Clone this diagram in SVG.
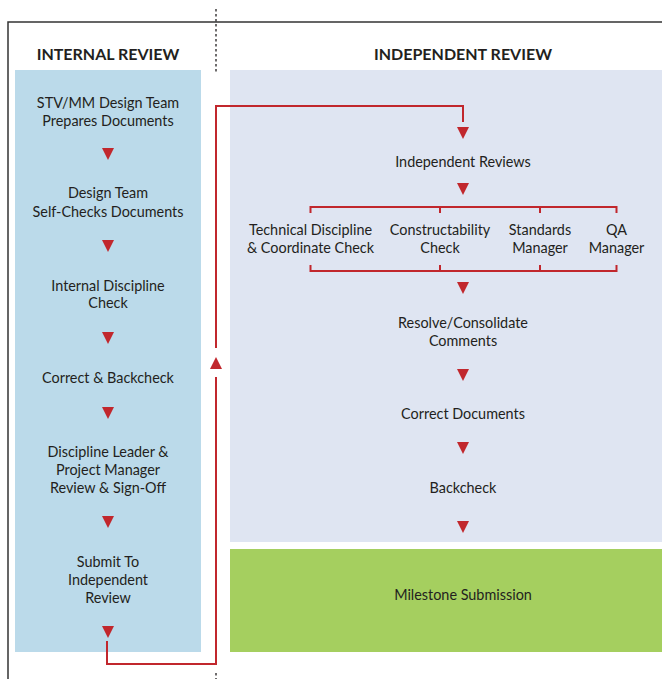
<svg xmlns="http://www.w3.org/2000/svg" xmlns:xlink="http://www.w3.org/1999/xlink" width="662" height="679" viewBox="0 0 662 679">
  <style>
    .frame { fill: none; stroke: #333333; stroke-width: 1.5; }
    .divider { fill: none; stroke: #231f20; stroke-width: 1.3; stroke-dasharray: 2.4 2.6; }
    .lane-int { fill: #bbdaea; }
    .lane-ind { fill: #dfe5f2; }
    .milestone { fill: #a5cf5f; }
    .head { font-family: Lato, "Open Sans", sans-serif; font-weight: 700; font-size: 16px; fill: #231f20; text-anchor: middle; }
    .lbl { font-family: Lato, "Open Sans", sans-serif; font-size: 14.4px; fill: #231f20; text-anchor: middle; }
    .wire { fill: none; stroke: #c1272d; stroke-width: 2; }
    .tip { fill: #c1272d; }
  </style>
  <defs>
    <!-- pointers: 12 wide, 12 tall, positioned by their top-centre -->
    <path id="down" d="M-6,0 H6 L0,12 Z"/>
    <path id="up" d="M-6,12 H6 L0,0 Z"/>
  </defs>

  <!-- frame and lane divider -->
  <path class="frame" d="M8,679 V22 H662"/>
  <path class="divider" d="M216,9 V72"/>
  <path class="divider" d="M216,673 V679"/>

  <!-- lanes -->
  <rect class="lane-int" x="15" y="70" width="186" height="582"/>
  <rect class="lane-ind" x="230" y="70" width="432" height="472"/>

  <text class="head" x="108" y="60">INTERNAL REVIEW</text>
  <text class="head" x="463" y="60">INDEPENDENT REVIEW</text>

  <!-- internal review steps -->
  <g id="stv-prepares">
    <text class="lbl" x="108" y="108">STV/MM Design Team</text>
    <text class="lbl" x="108" y="126">Prepares Documents</text>
  </g>
  <g id="self-check">
    <text class="lbl" x="108" y="198">Design Team</text>
    <text class="lbl" x="108" y="217">Self-Checks Documents</text>
  </g>
  <g id="discipline-check">
    <text class="lbl" x="108" y="291">Internal Discipline</text>
    <text class="lbl" x="108" y="308">Check</text>
  </g>
  <g id="correct-backcheck">
    <text class="lbl" x="108" y="383">Correct &amp; Backcheck</text>
  </g>
  <g id="signoff">
    <text class="lbl" x="108" y="457">Discipline Leader &amp;</text>
    <text class="lbl" x="108" y="475">Project Manager</text>
    <text class="lbl" x="108" y="493">Review &amp; Sign-Off</text>
  </g>
  <g id="submit">
    <text class="lbl" x="108" y="567">Submit To</text>
    <text class="lbl" x="108" y="585">Independent</text>
    <text class="lbl" x="108" y="603">Review</text>
  </g>

  <!-- independent review steps -->
  <g id="independent-reviews">
    <text class="lbl" x="463" y="167">Independent Reviews</text>
  </g>
  <g id="technical-check">
    <text class="lbl" x="310.5" y="235">Technical Discipline</text>
    <text class="lbl" x="310.5" y="253">&amp; Coordinate Check</text>
  </g>
  <g id="constructability">
    <text class="lbl" x="440" y="235">Constructability</text>
    <text class="lbl" x="440" y="253">Check</text>
  </g>
  <g id="standards">
    <text class="lbl" x="540" y="235">Standards</text>
    <text class="lbl" x="540" y="253">Manager</text>
  </g>
  <g id="qa">
    <text class="lbl" x="616.5" y="235">QA</text>
    <text class="lbl" x="616.5" y="253">Manager</text>
  </g>
  <g id="resolve">
    <text class="lbl" x="463" y="328">Resolve/Consolidate</text>
    <text class="lbl" x="463" y="346">Comments</text>
  </g>
  <g id="correct-docs">
    <text class="lbl" x="463" y="419">Correct Documents</text>
  </g>
  <g id="backcheck">
    <text class="lbl" x="463" y="493">Backcheck</text>
  </g>
  <g id="milestone">
    <rect class="milestone" x="230" y="549" width="432" height="103"/>
    <text class="lbl" x="463" y="600">Milestone Submission</text>
  </g>

  <g id="connectors">
    <!-- internal flow -->
    <use class="tip" xlink:href="#down" x="108" y="148"/>
    <use class="tip" xlink:href="#down" x="108" y="240"/>
    <use class="tip" xlink:href="#down" x="108" y="332"/>
    <use class="tip" xlink:href="#down" x="108" y="407"/>
    <use class="tip" xlink:href="#down" x="108" y="516"/>
    <use class="tip" xlink:href="#down" x="108" y="626"/>

    <!-- hand-off to independent review -->
    <path class="wire" d="M107,641 V664 H216 V377"/>
    <use class="tip" xlink:href="#up" x="216" y="357"/>
    <path class="wire" d="M216,348 V106 H463 V122"/>
    <use class="tip" xlink:href="#down" x="463" y="127"/>

    <!-- fan-out / fan-in -->
    <use class="tip" xlink:href="#down" x="463" y="183"/>
    <path class="wire" d="M310.5,213 V207 H616.5 V213 M440,207 V213 M540,207 V213"/>
    <path class="wire" d="M310.5,265 V271 H616.5 V265 M440,271 V265 M540,271 V265"/>
    <use class="tip" xlink:href="#down" x="463" y="282"/>

    <!-- independent flow -->
    <use class="tip" xlink:href="#down" x="463" y="369"/>
    <use class="tip" xlink:href="#down" x="463" y="442"/>
    <use class="tip" xlink:href="#down" x="463" y="521"/>
  </g>
</svg>
